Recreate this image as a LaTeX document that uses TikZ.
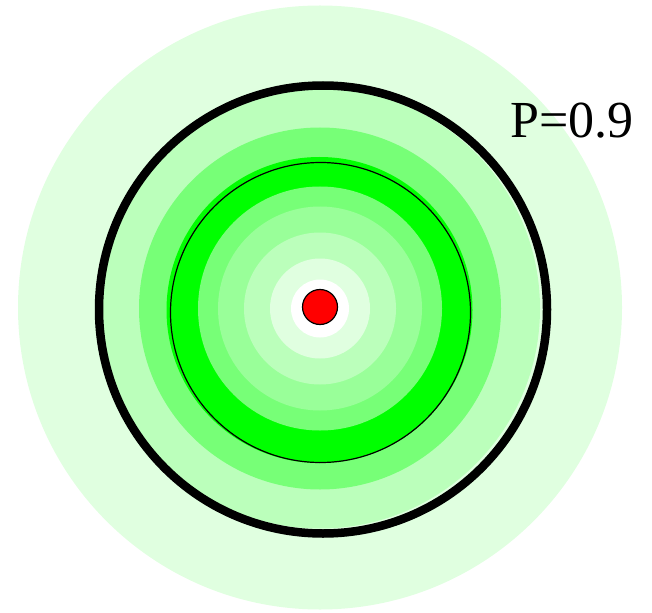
\documentclass[tikz,border=0pt]{standalone}
\usepackage{fontspec}
\setmainfont{Liberation Serif}
\usepackage{tikz}
\definecolor{palegreen}{HTML}{E0FFE0}
\definecolor{lightgreen}{HTML}{BBFFBB}
\definecolor{midgreen}{HTML}{99FF99}
\definecolor{softgreen}{HTML}{77FF77}
\definecolor{puregreen}{HTML}{00FF00}

\begin{document}
\begin{tikzpicture}[
  x=1pt,y=-1pt,
  ring/.style={draw=none},
  contour/.style={draw=black,line width=1.2pt},
  bigcontour/.style={draw=black,line width=8.5pt},
  label/.style={font=\fontsize{52}{52}\selectfont,inner sep=0pt,anchor=north west}
]
\useasboundingbox (0,0) rectangle (652,612);
\coordinate (centre) at (320,308.5);
\fill[ring,palegreen] (320,307.5) circle (302);
\fill[ring,lightgreen] (centre) circle (220);
\fill[ring,softgreen] (centre) circle (181);
\fill[ring,puregreen] (319.5,310) circle (153);
\fill[ring,softgreen] (centre) circle (122);
\fill[ring,midgreen] (centre) circle (102);
\fill[ring,lightgreen] (centre) circle (76);
\fill[ring,palegreen] (centre) circle (50);
\fill[ring,white] (centre) circle (29);
\draw[contour] (320.5,312.5) circle (150);
\draw[bigcontour] (323,309.5) circle (224);
\draw[contour,fill=red] (320,307) circle (17.5);
\node[label] (prob) at (510,103) {P=0.9};
\end{tikzpicture}
\end{document}
